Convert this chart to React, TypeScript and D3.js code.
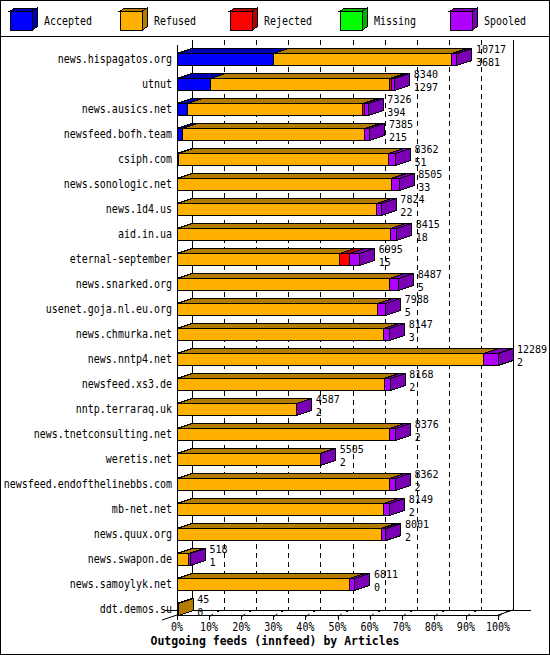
import React from "react";
import * as d3 from "d3";

const categories = [
  "news.hispagatos.org", "utnut", "news.ausics.net", "newsfeed.bofh.team", "csiph.com",
  "news.sonologic.net", "news.1d4.us", "aid.in.ua", "eternal-september", "news.snarked.org",
  "usenet.goja.nl.eu.org", "news.chmurka.net", "news.nntp4.net", "newsfeed.xs3.de",
  "nntp.terraraq.uk", "news.tnetconsulting.net", "weretis.net", "newsfeed.endofthelinebbs.com",
  "mb-net.net", "news.quux.org", "news.swapon.de", "news.samoylyk.net", "ddt.demos.su",
];
const offered = [10717, 8340, 7326, 7385, 8362, 8505, 7824, 8415, 6995, 8487, 7988, 8147, 12289, 8168, 4587, 8376, 5505, 8362, 8149, 8001, 518, 6811, 45];
const accepted = [3681, 1297, 394, 215, 51, 33, 22, 18, 15, 5, 5, 3, 2, 2, 2, 2, 2, 2, 2, 2, 1, 0, 0];
const refused = [6846, 6853, 6722, 6980, 8041, 8162, 7612, 8147, 6220, 8142, 7683, 7894, 11747, 7926, 4565, 8129, 5473, 8130, 7917, 7809, 457, 6591, 45];
const rejected = [0, 60, 60, 0, 0, 0, 0, 0, 380, 0, 0, 0, 0, 0, 0, 0, 0, 0, 0, 0, 0, 0, 0];
const missing = [0, 0, 0, 0, 0, 0, 0, 0, 0, 0, 0, 0, 0, 0, 0, 0, 0, 0, 0, 0, 0, 0, 0];
const spooled = [190, 130, 150, 190, 270, 310, 190, 250, 380, 340, 300, 250, 540, 240, 20, 245, 30, 230, 230, 190, 60, 220, 0];

const seriesNames = ["Accepted", "Refused", "Rejected", "Missing", "Spooled"];
const seriesFront = ["#0000FF", "#FFB000", "#FF0000", "#00FF00", "#B000FF"];
const seriesDark = ["#0000B3", "#B37B00", "#B30000", "#00B300", "#7B00B3"];
const pctTicks = [0, 10, 20, 30, 40, 50, 60, 70, 80, 90, 100];
const title = "Outgoing feeds (innfeed) by Articles";

const W = 550, H = 655;
const DX = 15, DY = 5, BH = 12;
const FONT = "DejaVu Sans Mono";

function T(props: any) {
  const { x, y, anchor = "start", bold = false, size = 10, sy = 1.2, children } = props;
  return (
    <text
      transform={`translate(${x},${y}) scale(1,${sy})`}
      textAnchor={anchor}
      fontFamily={FONT}
      fontWeight={bold ? "bold" : "normal"}
      fontSize={size}
      fill="#000"
    >
      {children}
    </text>
  );
}

function Box3D(props: any) {
  const { x0, x1, yTop, h, dx, dy, front, dark } = props;
  const yB = yTop + h;
  const top = `${x0},${yTop} ${x1},${yTop} ${x1 + dx},${yTop - dy} ${x0 + dx},${yTop - dy}`;
  const side = `${x1},${yTop} ${x1 + dx},${yTop - dy} ${x1 + dx},${yB - dy} ${x1},${yB}`;
  return (
    <g stroke="#000" strokeWidth={1}>
      <polygon points={top} fill={dark} />
      <polygon points={side} fill={dark} />
      <rect x={x0} y={yTop} width={Math.max(0, x1 - x0)} height={h} fill={front} />
    </g>
  );
}

export default function App() {
  const x = d3.scaleLinear().domain([0, d3.max(offered) as number]).range([177, 498]);
  const pct = d3.scaleLinear().domain([0, 100]).range([177, 498]);
  const y = d3.scalePoint<string>().domain(categories).range([59, 608.5]);

  const rows = categories.map((c, i) => ({
    cat: c,
    Accepted: accepted[i],
    Refused: refused[i],
    Rejected: rejected[i],
    Missing: missing[i],
    Spooled: spooled[i],
  }));
  const stacked = d3.stack<any>().keys(seriesNames)(rows);

  const backTop = 40, backBottom = 610, frontTop = 45, frontBottom = 615;

  return (
    <svg
      width={W}
      height={H}
      style={{ position: "absolute", left: 0, top: 0, background: "#fff" }}
      shapeRendering="crispEdges"
    >
      <rect x={0} y={0} width={W} height={H} fill="#fff" />
      <rect x={0.5} y={0.5} width={W - 1} height={H - 1} fill="none" stroke="#000" />
      <line x1={0} x2={W} y1={36.5} y2={36.5} stroke="#000" />

      {/* legend */}
      {seriesNames.map((s, i) => {
        const lx = 10 + 110 * i;
        return (
          <g key={s}>
            <Box3D x0={lx} x1={lx + 22} yTop={11} h={19} dx={5} dy={3} front={seriesFront[i]} dark={seriesDark[i]} />
            <T x={lx + 34} y={25}>{s}</T>
          </g>
        );
      })}

      {/* back plane grid */}
      {pctTicks.slice(1, -1).map((p) => (
        <line key={p} x1={pct(p) + DX + 0.5} x2={pct(p) + DX + 0.5} y1={backTop} y2={backBottom}
          stroke="#000" strokeDasharray="5,4" />
      ))}
      <line x1={pct(0) + DX + 0.5} x2={pct(0) + DX + 0.5} y1={backTop} y2={backBottom} stroke="#000" />
      <line x1={pct(100) + DX + 0.5} x2={pct(100) + DX + 0.5} y1={backTop} y2={backBottom} stroke="#000" />
      <line x1={165} x2={531} y1={backBottom + 0.5} y2={backBottom + 0.5} stroke="#000" />

      {/* front frame */}
      <line x1={pct(0) + 0.5} x2={pct(0) + 0.5} y1={frontTop} y2={frontBottom} stroke="#000" />
      <line x1={pct(0)} x2={pct(100)} y1={frontBottom + 0.5} y2={frontBottom + 0.5} stroke="#000" />
      <line x1={pct(100)} x2={pct(100) + DX} y1={frontBottom} y2={frontBottom - DY} stroke="#000" shapeRendering="auto" />
      <line x1={pct(0) - DX} x2={pct(0)} y1={frontBottom + DY} y2={frontBottom} stroke="#000" shapeRendering="auto" />

      {/* ticks */}
      {pctTicks.map((p) => (
        <g key={p}>
          <line x1={pct(p) + 0.5} x2={pct(p) + 0.5} y1={frontBottom} y2={frontBottom + 5} stroke="#000" />
          {p > 0 && (
            <>
              <line x1={pct(p)} x2={pct(p) + 4} y1={frontBottom + 2} y2={frontBottom - 1} stroke="#000" shapeRendering="auto" />
              <rect x={pct(p) + 8} y={backBottom - 0.5} width={2} height={2} fill="#000" />
            </>
          )}
          <T x={pct(p)} y={631} anchor="middle">{`${p}%`}</T>
        </g>
      ))}

      {/* bars */}
      {categories.map((c, i) => {
        const cy = y(c) as number;
        const yTop = Math.round(cy - BH / 2) + 0.5;
        return (
          <g key={c}>
            {seriesNames.map((s, k) => {
              const [v0, v1] = stacked[k][i];
              if (v1 - v0 <= 0) return null;
              return (
                <Box3D key={s} x0={x(v0)} x1={x(v1)} yTop={yTop} h={BH} dx={DX} dy={DY}
                  front={seriesFront[k]} dark={seriesDark[k]} />
              );
            })}
            <T x={172} y={cy + 4} anchor="end">{c}</T>
            <T x={x(offered[i]) + DX + 4} y={cy - 6} sy={1.1}>{offered[i]}</T>
            <T x={x(offered[i]) + DX + 4} y={cy + 7} sy={1.1}>{accepted[i]}</T>
          </g>
        );
      })}

      <T x={275} y={645} anchor="middle" bold size={11.5} sy={1.05}>{title}</T>
    </svg>
  );
}
